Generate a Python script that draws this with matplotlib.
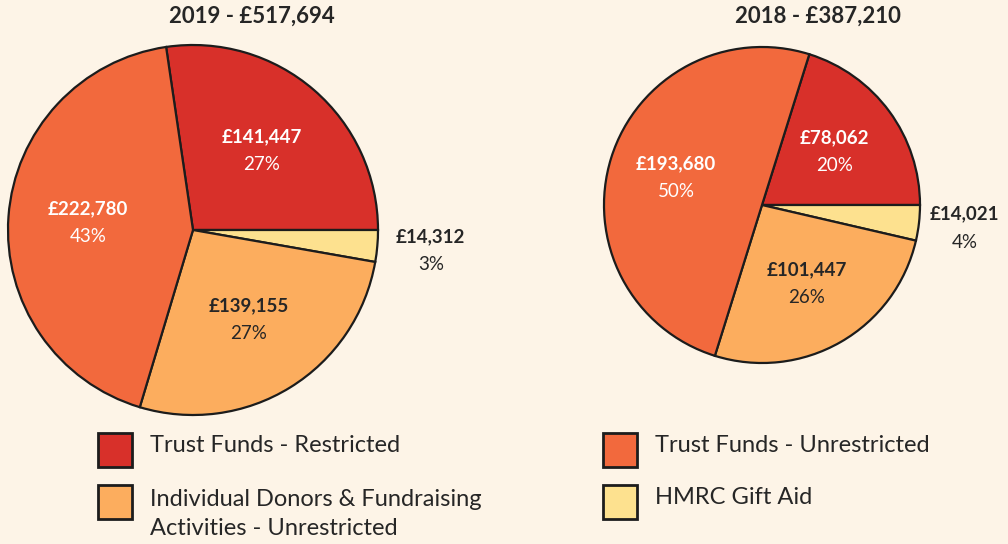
import matplotlib
matplotlib.use("Agg")
import matplotlib.pyplot as plt
import matplotlib.patches as mpatches
import numpy as np

W, H = 1008, 544
BG = "#fdf4e7"
TXT = "#262626"

plt.rcParams.update({
    "font.family": ["Lato", "DejaVu Sans"],
    "figure.facecolor": BG,
    "savefig.facecolor": BG,
})

# data
categories = ["Trust Funds - Restricted", "HMRC Gift Aid",
              "Individual Donors & Fundraising\nActivities - Unrestricted",
              "Trust Funds - Unrestricted"]
colors = ["#d8302a", "#fde18f", "#fcad5e", "#f2693d"]
label_colors = ["white", TXT, TXT, "white"]
values_2019 = [141447, 14312, 139155, 222780]
values_2018 = [78062, 14021, 101447, 193680]
titles = ["2019 - £517,694", "2018 - £387,210"]

fig = plt.figure(figsize=(W / 100, H / 100), dpi=100)


def box(x0, y0, x1, y1):
    """pixel box (top-left origin) -> figure fraction rect"""
    return [x0 / W, 1 - y1 / H, (x1 - x0) / W, (y1 - y0) / H]


def draw_pie(rect, values, title, title_x):
    ax = fig.add_axes(rect)
    total = sum(values)
    start = 360 * values[0] / total
    wedges, _ = ax.pie(values, colors=colors, startangle=start, counterclock=False,
                       radius=1, wedgeprops=dict(edgecolor="#1c1c1c", linewidth=1.6))
    for i, (w, v) in enumerate(zip(wedges, values)):
        mid = np.deg2rad((w.theta1 + w.theta2) / 2)
        outside = v / total < 0.05
        r = 1.29 if outside else 0.57
        x, y = r * np.cos(mid), r * np.sin(mid)
        c = TXT if outside else label_colors[i]
        pct = f"{round(100 * v / total)}%"
        ax.annotate(f"£{v:,}", (x, y), xytext=(0, 10), textcoords="offset points",
                    ha="center", va="center", fontsize=13.5, fontweight="bold",
                    color=c, annotation_clip=False)
        ax.annotate(pct, (x, y), xytext=(0, -10), textcoords="offset points",
                    ha="center", va="center", fontsize=13.5, color=c,
                    annotation_clip=False)
    ax.set_xlim(-1, 1)
    ax.set_ylim(-1, 1)
    ax.set_aspect("equal")
    ax.axis("off")
    fig.text(title_x / W, 1 - 16 / H, title, ha="center", va="center",
             fontsize=16, fontweight="bold", color=TXT)


draw_pie(box(8, 45, 378, 415), values_2019, titles[0], 252)
draw_pie(box(604, 47, 920, 363), values_2018, titles[1], 818)

# legend, left column then right column
legend_order = [0, 2, 3, 1]
legend_pos = [(98, 433, 150, 446), (98, 485, 150, 514),
              (603, 433, 655, 446), (603, 485, 655, 498)]
for idx, (sx, sy, tx, ty) in zip(legend_order, legend_pos):
    sq = mpatches.Rectangle((sx / W, 1 - (sy + 34) / H), 34 / W, 34 / H,
                            transform=fig.transFigure, facecolor=colors[idx],
                            edgecolor="#1c1c1c", linewidth=2)
    fig.add_artist(sq)
    fig.text(tx / W, 1 - ty / H, categories[idx], ha="left", va="center",
             fontsize=17, color=TXT, linespacing=1.45)

fig.savefig("out.png", dpi=100)
